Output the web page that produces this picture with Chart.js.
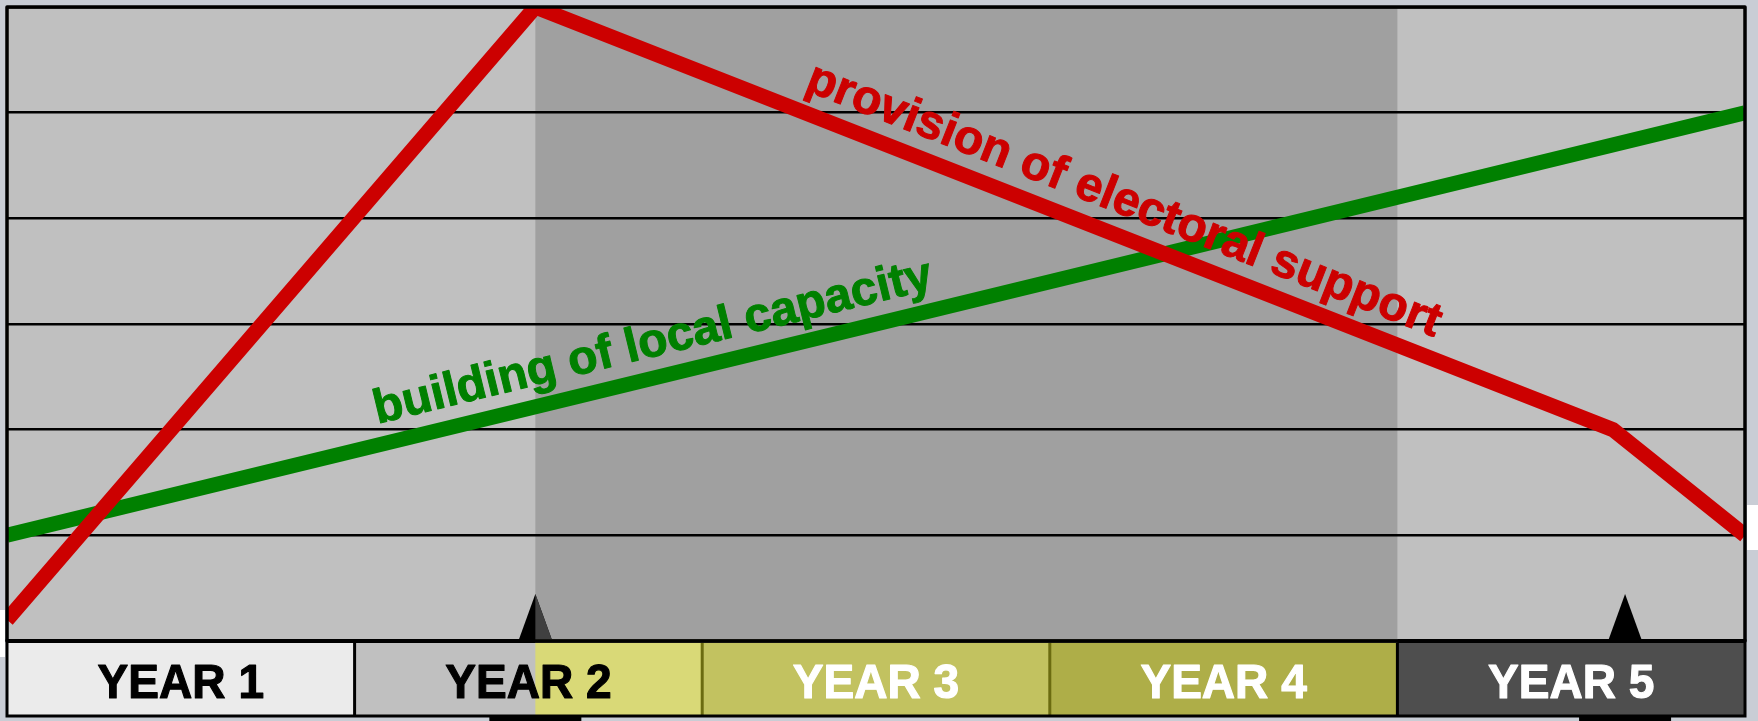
<!DOCTYPE html>
<html>
<head>
<meta charset="utf-8">
<script src="https://cdn.jsdelivr.net/npm/chart.js@4.4.1/dist/chart.umd.min.js"></script>
<style>
    body { margin: 0; background: #c9cdd5; }
    #wrap { width: 1758px; height: 721px; position: relative; }
</style>
</head>
<body>
<div id="wrap"><canvas id="timeline"></canvas></div>
<script>
// data (x = years from start, y = grid units 0..6)
const years = ['YEAR 1', 'YEAR 2', 'YEAR 3', 'YEAR 4', 'YEAR 5'];
const electoralX = [0, 1.52, 4.62, 5];
const electoralY = [0.2, 6, 2.0, 1.0];
const capacityX = [0, 5];
const capacityY = [1.0, 5.0];
const milestones = [1.52, 4.655];
const shadedPeriod = [1.52, 4.0];

const yearColors = ['#ebebeb', '#c0c0c0', '#c2c260', '#aeae48', '#4e4e4e'];
const yearTextColors = ['#000000', '#000000', '#ffffff', '#ffffff', '#ffffff'];

function toPoints(xs, ys) {
    return xs.map(function (x, i) { return { x: x, y: ys[i] }; });
}

// text laid along a segment of a dataset line
function lineLabel(ctx, chart, dsIndex, from, to, t, offset, text, font, color) {
    const pts = chart.getDatasetMeta(dsIndex).data;
    const a = pts[from], b = pts[to];
    const angle = Math.atan2(b.y - a.y, b.x - a.x);
    ctx.save();
    ctx.translate(a.x + (b.x - a.x) * t, a.y + (b.y - a.y) * t);
    ctx.rotate(angle);
    ctx.font = font;
    ctx.fillStyle = color;
    ctx.strokeStyle = color;
    ctx.lineWidth = 1;
    ctx.lineJoin = 'round';
    ctx.textAlign = 'left';
    ctx.textBaseline = 'alphabetic';
    ctx.fillText(text, 0, -offset);
    ctx.strokeText(text, 0, -offset);
    ctx.restore();
}

const backdrop = {
    id: 'backdrop',
    beforeDraw(chart) {
        const ctx = chart.ctx;
        const area = chart.chartArea;
        const x = chart.scales.x;
        ctx.save();
        ctx.fillStyle = '#c9cdd5';
        ctx.fillRect(0, 0, chart.width, chart.height);
        ctx.fillStyle = '#c0c0c0';
        ctx.fillRect(area.left, area.top, area.width, area.height);
        const s0 = x.getPixelForValue(shadedPeriod[0]);
        const s1 = x.getPixelForValue(shadedPeriod[1]);
        ctx.fillStyle = '#a0a0a0';
        ctx.fillRect(s0, area.top, s1 - s0, area.height);
        ctx.restore();
    },
    afterDatasetsDraw(chart) {
        const ctx = chart.ctx;
        const area = chart.chartArea;
        const x = chart.scales.x;
        const s0 = x.getPixelForValue(shadedPeriod[0]);
        const s1 = x.getPixelForValue(shadedPeriod[1]);
        const bandTop = area.bottom;
        const bandBottom = area.bottom + 75;

        lineLabel(ctx, chart, 0, 1, 2, 0.242, 21, 'provision of electoral support', 'bold 48px "Liberation Sans", Arial, sans-serif', '#cc0000');
        lineLabel(ctx, chart, 1, 0, 1, 0.216, 21, 'building of local capacity', 'bold 48px "Liberation Sans", Arial, sans-serif', '#008000');

        // milestone markers
        milestones.forEach(function (m) {
            const cx = x.getPixelForValue(m);
            ctx.save();
            ctx.beginPath();
            ctx.moveTo(cx, bandTop - 47);
            ctx.lineTo(cx + 17, bandTop);
            ctx.lineTo(cx - 17, bandTop);
            ctx.closePath();
            ctx.fillStyle = '#000000';
            ctx.fill();
            ctx.clip();
            ctx.fillStyle = '#404040';
            ctx.fillRect(s0, bandTop - 50, s1 - s0, 50);
            ctx.restore();
            // bits of boxes below the band
            ctx.fillStyle = '#000000';
            ctx.fillRect(cx - 46, bandBottom, 92, 10);
        });

        // year band
        ctx.save();
        for (let i = 0; i < years.length; i++) {
            const x0 = x.getPixelForValue(i);
            const x1 = x.getPixelForValue(i + 1);
            ctx.fillStyle = yearColors[i];
            ctx.fillRect(x0, bandTop, x1 - x0, bandBottom - bandTop);
            if (s0 > x0 && s0 < x1) {
                ctx.fillStyle = '#d9d977';
                ctx.fillRect(s0, bandTop, x1 - s0, bandBottom - bandTop);
            }
        }
        ctx.lineWidth = 3;
        for (let i = 1; i < years.length; i++) {
            const xi = x.getPixelForValue(i);
            ctx.strokeStyle = (i == 2 || i == 3) ? '#6b6b10' : '#000000';
            ctx.beginPath();
            ctx.moveTo(xi, bandTop);
            ctx.lineTo(xi, bandBottom);
            ctx.stroke();
        }
        ctx.strokeStyle = '#000000';
        ctx.strokeRect(area.left, bandTop, area.width, bandBottom - bandTop);
        ctx.lineWidth = 4;
        ctx.beginPath();
        ctx.moveTo(area.left, bandTop);
        ctx.lineTo(s0, bandTop);
        ctx.moveTo(s1, bandTop);
        ctx.lineTo(area.right, bandTop);
        ctx.stroke();
        ctx.strokeStyle = '#4a4a3a';
        ctx.beginPath();
        ctx.moveTo(s0, bandTop);
        ctx.lineTo(s1, bandTop);
        ctx.stroke();

        ctx.font = 'bold 49px "Liberation Sans", Arial, sans-serif';
        ctx.textAlign = 'center';
        ctx.textBaseline = 'alphabetic';
        ctx.lineWidth = 1.2;
        ctx.lineJoin = 'round';
        for (let i = 0; i < years.length; i++) {
            const cx = (x.getPixelForValue(i) + x.getPixelForValue(i + 1)) / 2;
            ctx.save();
            ctx.translate(cx, bandTop + 57);
            ctx.scale(0.94, 1);
            ctx.fillStyle = yearTextColors[i];
            ctx.strokeStyle = yearTextColors[i];
            ctx.fillText(years[i], 0, 0);
            ctx.strokeText(years[i], 0, 0);
            ctx.restore();
        }

        // frame of the plot
        ctx.strokeStyle = '#000000';
        ctx.lineWidth = 3.5;
        ctx.strokeRect(area.left, area.top, area.width, area.height);
        ctx.restore();

        // small white patches at the edges
        ctx.fillStyle = '#ffffff';
        ctx.fillRect(area.right + 2, 505, chart.width - area.right, 45);
        ctx.fillRect(0, 610, area.left - 2, 47);
    }
};

const ctx = document.getElementById('timeline').getContext('2d');
const timelineChart = new Chart(ctx, {
    type: 'line',
    data: {
        datasets: [
            {
                label: 'provision of electoral support',
                data: toPoints(electoralX, electoralY),
                borderColor: '#cc0000',
                borderWidth: 15,
                pointRadius: 0,
                tension: 0,
                borderJoinStyle: 'miter',
                clip: 0,
            },
            {
                label: 'building of local capacity',
                data: toPoints(capacityX, capacityY),
                borderColor: '#008000',
                borderWidth: 15,
                pointRadius: 0,
                tension: 0,
                clip: 0,
            }
        ]
    },
    options: {
        responsive: true,
        maintainAspectRatio: false,
        animation: false,
        layout: {
            padding: { left: 7, top: 7, right: 13, bottom: 80 }
        },
        plugins: {
            legend: { display: false },
            tooltip: { enabled: false }
        },
        scales: {
            x: {
                type: 'linear',
                min: 0,
                max: 5,
                ticks: { display: false },
                grid: { display: false, drawTicks: false },
                border: { display: false }
            },
            y: {
                min: 0,
                max: 6,
                ticks: { display: false, stepSize: 1 },
                grid: { color: '#000000', lineWidth: 2.5, drawTicks: false },
                border: { display: false }
            }
        }
    },
    plugins: [backdrop]
});
</script>
</body>
</html>
